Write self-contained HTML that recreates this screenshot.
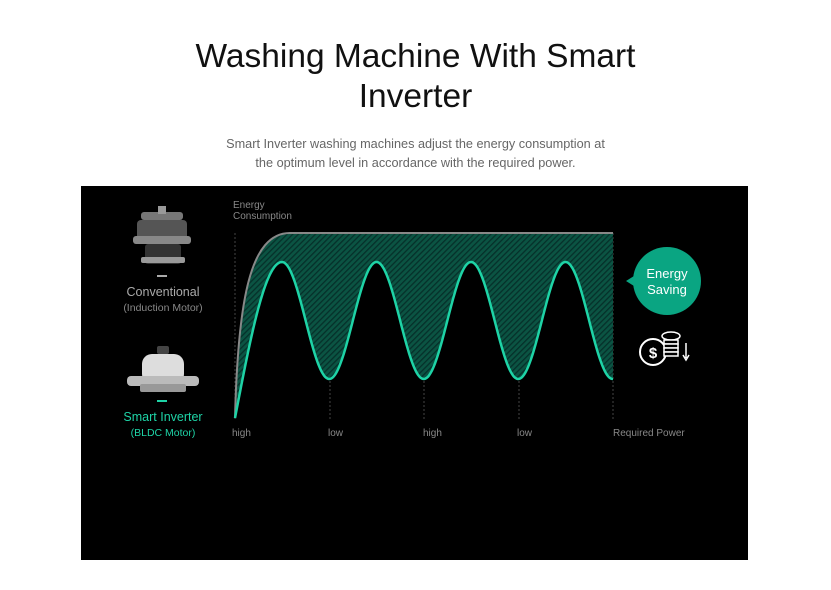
<!DOCTYPE html>
<html><head><meta charset="utf-8"><style>
body{margin:0;width:831px;height:590px;background:#fff;font-family:"Liberation Sans",sans-serif;position:relative;overflow:hidden}
.t{position:absolute;left:0;width:831px;text-align:center;color:#111}
</style></head><body>
<div class="t" style="top:37px;font-size:33.5px;line-height:40px">Washing Machine With Smart<br>Inverter</div>
<div class="t" style="top:135px;font-size:12.7px;line-height:19px;color:#666">Smart Inverter washing machines adjust the energy consumption at<br>the optimum level in accordance with the required power.</div>
<div style="position:absolute;left:81px;top:186px;width:667px;height:374px;background:#000"></div>
<svg id="s" width="831" height="590" style="position:absolute;left:0;top:0" font-family="Liberation Sans, sans-serif">
<defs><pattern id="h" width="4" height="4" patternUnits="userSpaceOnUse" patternTransform="rotate(45)"><rect width="4" height="4" fill="#0b5443"/><rect width="1.3" height="4" fill="#06302a"/></pattern></defs>
<g stroke="#444" stroke-dasharray="2,2" stroke-width="1">
<line x1="235" y1="233" x2="235" y2="420"/><line x1="330" y1="233" x2="330" y2="420"/><line x1="424" y1="233" x2="424" y2="420"/><line x1="519" y1="233" x2="519" y2="420"/><line x1="613" y1="233" x2="613" y2="420"/></g>
<path id="fill" fill="url(#h)"/>
<path d="M235,418 C238,300 250,233 290,233 L613,233" fill="none" stroke="#888" stroke-width="2"/>
<path id="g" fill="none" stroke="#1ed3a6" stroke-width="2.5"/>
<text x="233" y="208" font-size="10" fill="#888">Energy</text>
<text x="233" y="219" font-size="10" fill="#888">Consumption</text>
<g font-size="10" fill="#888"><text x="232" y="436">high</text><text x="328" y="436">low</text><text x="423" y="436">high</text><text x="517" y="436">low</text><text x="613" y="436">Required Power</text></g>
<g><rect x="141" y="212" width="42" height="8" rx="3" fill="#777"/><rect x="158" y="206" width="8" height="8" fill="#999"/><rect x="137" y="220" width="50" height="20" rx="4" fill="#555"/><rect x="133" y="236" width="58" height="8" rx="3" fill="#888"/><rect x="145" y="244" width="36" height="20" rx="3" fill="#333"/><rect x="141" y="257" width="44" height="6" rx="2" fill="#999"/></g>
<rect x="157" y="275" width="10" height="2" fill="#aaa"/>
<text x="163" y="296" font-size="12.5" fill="#aaa" text-anchor="middle">Conventional</text>
<text x="163" y="311" font-size="10.5" fill="#888" text-anchor="middle">(Induction Motor)</text>
<g><rect x="157" y="346" width="12" height="8" rx="2" fill="#444"/><rect x="142" y="354" width="42" height="30" rx="10" fill="#ddd"/><rect x="127" y="376" width="72" height="10" rx="4" fill="#bbb"/><rect x="140" y="384" width="46" height="8" rx="2" fill="#999"/></g>
<rect x="157" y="400" width="10" height="2" fill="#1ed3a6"/>
<text x="163" y="421" font-size="12.5" fill="#1ed3a6" text-anchor="middle">Smart Inverter</text>
<text x="163" y="436" font-size="10.5" fill="#1ed3a6" text-anchor="middle">(BLDC Motor)</text>
<circle cx="667" cy="281" r="34" fill="#0aa582"/><path d="M634,276 L626,281 L634,286Z" fill="#0aa582"/>
<text x="667" y="278" font-size="13" fill="#fff" text-anchor="middle">Energy</text>
<text x="667" y="294" font-size="13" fill="#fff" text-anchor="middle">Saving</text>
<circle cx="653" cy="352" r="13" fill="none" stroke="#fff" stroke-width="2"/>
<text x="653" y="358" font-size="15" font-weight="bold" fill="#fff" text-anchor="middle">$</text>
<g fill="#000" stroke="#fff" stroke-width="1.5"><ellipse cx="671" cy="336" rx="9" ry="4"/><rect x="664" y="340" width="14" height="4"/><rect x="664" y="344" width="14" height="4"/><rect x="664" y="348" width="14" height="4"/><rect x="664" y="352" width="14" height="4"/></g>
<path d="M686,343 V358 M683,355 L686,360 L689,355" stroke="#fff" stroke-width="1.5" fill="none"/>
</svg>
<script>
var p="M235,418 ";
for(var x=235;x<=613;x+=1){var y;
if(x<282){var t=(x-235)/47;y=418-156*Math.sin(t*Math.PI/2);}
else{y=320.5-58.5*Math.cos((x-282)/94.5*2*Math.PI);}
p+="L"+x+","+y.toFixed(1)+" ";}
document.getElementById("g").setAttribute("d",p);
document.getElementById("fill").setAttribute("d","M235,418 C238,300 250,233 290,233 L613,233 L613,379 "+p.replace(/^M235,418 /,"").split(" ").filter(Boolean).reverse().join(" ")+" Z");
</script>
</body></html>
